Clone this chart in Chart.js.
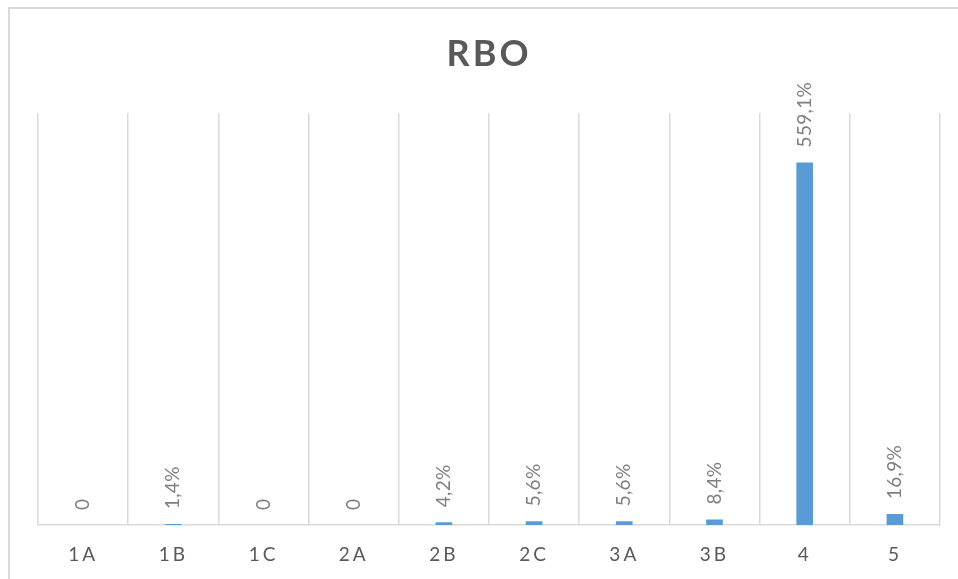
<!DOCTYPE html>
<html>
<head>
<meta charset="utf-8">
<script src="https://cdn.jsdelivr.net/npm/chart.js@4"></script>
<style>
  html, body { margin: 0; padding: 0; background: #fff; }
  #wrap { position: relative; width: 958px; height: 579px; }
  #frame {
    position: absolute; left: 8px; top: 7px; right: -4px; bottom: -4px;
    border-top: 2px solid #d9d9d9; border-left: 2px solid #d9d9d9;
    pointer-events: none;
  }
  canvas { position: absolute; left: 0; top: 0; }
</style>
</head>
<body>
<div id="wrap">
  <canvas id="rboChart" width="958" height="579"></canvas>
  <div id="frame"></div>
</div>
<script>
const categories = ['1A', '1B', '1C', '2A', '2B', '2C', '3A', '3B', '4', '5'];
const rboValues = [0, 1.4, 0, 0, 4.2, 5.6, 5.6, 8.4, 559.1, 16.9];

const fontFamily = 'Lato, "Open Sans", sans-serif';

// decimal comma, zero shown without percent sign
const formatLabel = v => v === 0 ? '0' : v.toFixed(1).replace('.', ',') + '%';

const spacingPlugin = {
  id: 'spacing',
  beforeDraw(chart) {
    chart.ctx.letterSpacing = '3px';
  },
  afterDatasetsDraw(chart) {
    const ctx = chart.ctx;
    ctx.save();
    ctx.letterSpacing = '0.3px';
    ctx.fillStyle = '#7f7f7f';
    ctx.font = '19px ' + fontFamily;
    ctx.textAlign = 'left';
    ctx.textBaseline = 'middle';
    const meta = chart.getDatasetMeta(0);
    meta.data.forEach((bar, i) => {
      ctx.save();
      ctx.translate(bar.x, bar.y - 15);
      ctx.rotate(-Math.PI / 2);
      ctx.fillText(formatLabel(rboValues[i]), 0, 0);
      ctx.restore();
    });
    ctx.restore();
  }
};

const ctx = document.getElementById('rboChart').getContext('2d');
new Chart(ctx, {
  type: 'bar',
  data: {
    labels: categories,
    datasets: [{
      label: 'RBO',
      data: rboValues,
      backgroundColor: '#5b9bd5',
      borderWidth: 0,
      categoryPercentage: 1,
      barPercentage: 0.185,
    }],
  },
  options: {
    responsive: false,
    animation: false,
    layout: { padding: { left: 38, right: 18, top: 0, bottom: 0 } },
    scales: {
      x: {
        grid: { color: '#d9d9d9', lineWidth: 1.5, drawTicks: false, offset: true },
        border: { color: '#d9d9d9', width: 1.5 },
        ticks: { color: '#595959', font: { family: fontFamily, size: 19 }, padding: 18, maxRotation: 0 },
        afterFit(scale) { scale.height = 54; }
      },
      y: {
        display: false,
        min: 0,
        max: 635,
      }
    },
    plugins: {
      legend: { display: false },
      tooltip: { enabled: false },
      title: {
        display: true,
        text: 'RBO',
        color: '#595959',
        font: { family: fontFamily, size: 36, weight: 'bold', lineHeight: 1.2 },
        padding: { top: 33, bottom: 37 }
      }
    }
  },
  plugins: [spacingPlugin]
});
</script>
</body>
</html>
